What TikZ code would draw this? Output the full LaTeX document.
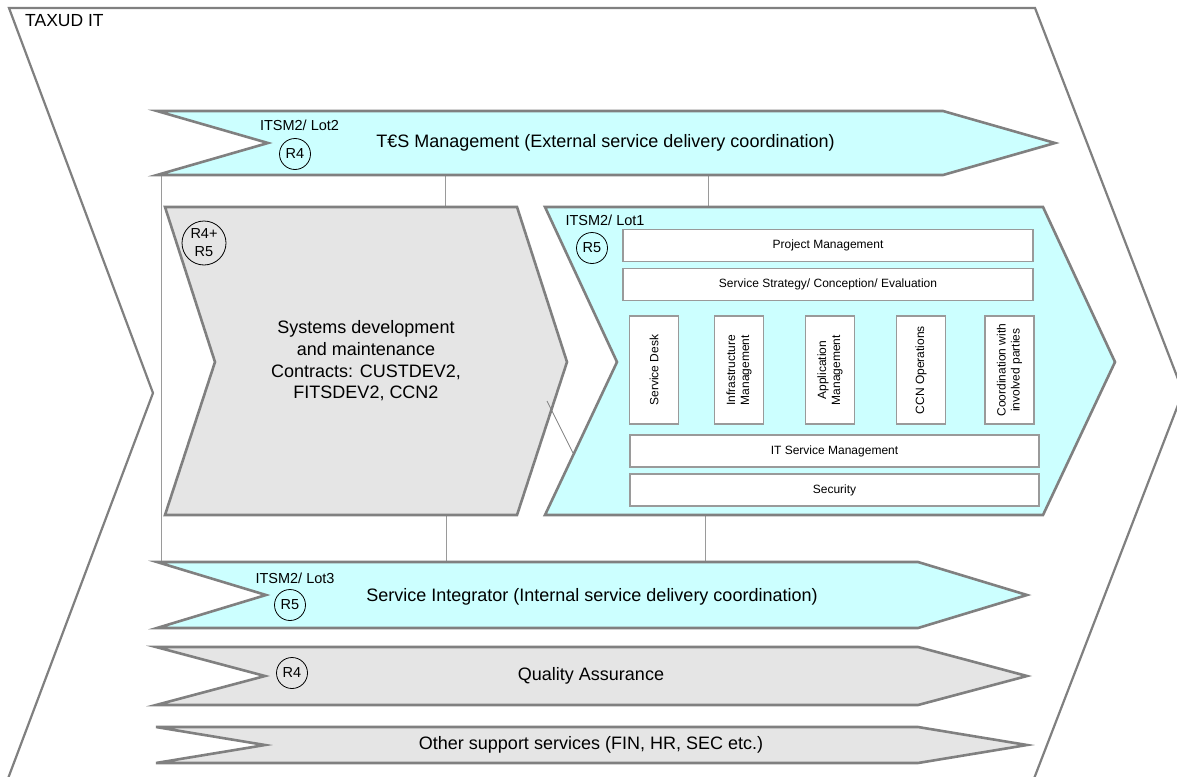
\documentclass[tikz,border=0pt]{standalone}
\usepackage{fontspec}
\setmainfont{Liberation Sans}
\definecolor{cyanfill}{HTML}{CCFFFF}
\definecolor{grayfill}{HTML}{E5E5E5}
\definecolor{edgegray}{HTML}{808080}
\definecolor{thingray}{HTML}{9A9A9A}
\tikzset{
  chevron/.style={draw=edgegray, line width=2.6pt, line join=miter, miter limit=12},
  cyanchev/.style={chevron, fill=cyanfill},
  graychev/.style={chevron, fill=grayfill},
  outerline/.style={draw=edgegray, line width=2.2pt, line join=miter},
  link/.style={draw=thingray, line width=1pt},
  inbox/.style={draw=thingray, line width=1.3pt, fill=white, inner sep=0pt, align=center, font=\fontsize{12}{14}\selectfont},
  rmark/.style={draw=black, circle, line width=0.8pt, inner sep=0pt, minimum size=31pt, align=center, font=\fontsize{14.5}{17}\selectfont},
  lotlabel/.style={font=\fontsize{14.5}{17}\selectfont, inner sep=0pt},
  bandtext/.style={font=\fontsize{18}{21.7}\selectfont, inner sep=0pt, align=center},
}
\begin{document}
\begin{tikzpicture}[x=1pt,y=-1pt]
\useasboundingbox (0,0) rectangle (1177,776);
\clip (0,0) rectangle (1177,776);
\fill[white] (0,0) rectangle (1177,776);

% outer TAXUD IT chevron
\draw[outerline] (3.7,790) -- (153,393) -- (9,8) -- (1035,8) -- (1183,392) -- (1029.6,790);
\node[anchor=west, font=\fontsize{17.5}{20}\selectfont, inner sep=0pt] (taxud) at (25,21) {TAXUD IT};

% connector coordinates
\coordinate (topL) at (161,175);
\coordinate (lot3L) at (161,562);
\coordinate (topA) at (445,175);
\coordinate (sysT) at (445,207);
\coordinate (topB) at (708,175);
\coordinate (lot1T) at (708,207);
\coordinate (sysB) at (446,515);
\coordinate (lot3A) at (446,562);
\coordinate (lot1B) at (705,515);
\coordinate (lot3B) at (705,562);

\draw[link] (topL) -- (lot3L);
\draw[link] (topA) -- (sysT);
\draw[link] (topB) -- (lot1T);
\draw[link] (sysB) -- (lot3A);
\draw[link] (lot1B) -- (lot3B);

% T€S band (Lot2)
\draw[cyanchev] (157,111) -- (943,111) -- (1055,143) -- (943,175) -- (157,175) -- (268,143) -- cycle;
\node[lotlabel] (lot2lab) at (299.5,125) {ITSM2/ Lot2};
\node[rmark] (r4a) at (295,154) {R4};
\node[bandtext] (tes) at (605.5,143) {T€S Management (External service delivery coordination)};

% Systems development chevron
\draw[graychev] (165,207) -- (517,207) -- (567,362) -- (517,515) -- (165,515) -- (215,362) -- cycle;
\node[rmark, minimum size=44pt, font=\fontsize{14.5}{18}\selectfont] (r45) at (204,243) {R4+\\R5};
\node[bandtext] (sysdev) at (366,361) {Systems development\\and maintenance\\Contracts: CUSTDEV2,\\FITSDEV2, CCN2};

% Lot1 chevron
\draw[cyanchev] (545,207) -- (1043,207) -- (1115,362) -- (1043,515) -- (545,515) -- (617,362) -- cycle;
\coordinate (diagA) at (547,401);
\coordinate (diagB) at (573,453);
\draw[draw=edgegray, line width=0.8pt] (diagA) -- (diagB);
\node[lotlabel] (lot1lab) at (605,220) {ITSM2/ Lot1};
\node[rmark] (r5a) at (592,248) {R5};

\node[inbox, minimum width=410pt, minimum height=32pt] (pm) at (828,245.5) {Project Management};
\node[inbox, minimum width=410pt, minimum height=32pt] (sscE) at (828,284.5) {Service Strategy/ Conception/ Evaluation};
\node[inbox, rotate=90, minimum width=108pt, minimum height=49pt] (sdesk) at (654,370) {Service Desk};
\node[inbox, rotate=90, minimum width=108pt, minimum height=49pt] (infra) at (739,370) {Infrastructure\\Management};
\node[inbox, rotate=90, minimum width=108pt, minimum height=49pt] (appm) at (830,370) {Application\\Management};
\node[inbox, rotate=90, minimum width=108pt, minimum height=49pt] (ccn) at (921,370) {CCN Operations};
\node[inbox, rotate=90, minimum width=108pt, minimum height=49pt] (coord) at (1009.5,370) {Coordination with\\involved parties};
\node[inbox, minimum width=409pt, minimum height=32pt] (itsm) at (834.5,451) {IT Service Management};
\node[inbox, minimum width=409pt, minimum height=32pt] (sec) at (834.5,490) {Security};

% Lot3 band
\draw[cyanchev] (157,562) -- (918,562) -- (1027,595) -- (918,628) -- (157,628) -- (266,595) -- cycle;
\node[lotlabel] (lot3lab) at (295,578) {ITSM2/ Lot3};
\node[rmark] (r5b) at (290,605) {R5};
\node[bandtext] (si) at (592,597) {Service Integrator (Internal service delivery coordination)};

% Quality Assurance band
\draw[graychev] (156,647) -- (918,647) -- (1027,676) -- (918,705) -- (156,705) -- (265,676) -- cycle;
\node[rmark] (r4b) at (292,673) {R4};
\node[bandtext] (qa) at (591,676) {Quality Assurance};

% Other support services band
\draw[graychev] (156,727) -- (918,727) -- (1027,745) -- (918,763) -- (156,763) -- (265,745) -- cycle;
\node[bandtext] (other) at (591,745) {Other support services (FIN, HR, SEC etc.)};
\end{tikzpicture}
\end{document}
